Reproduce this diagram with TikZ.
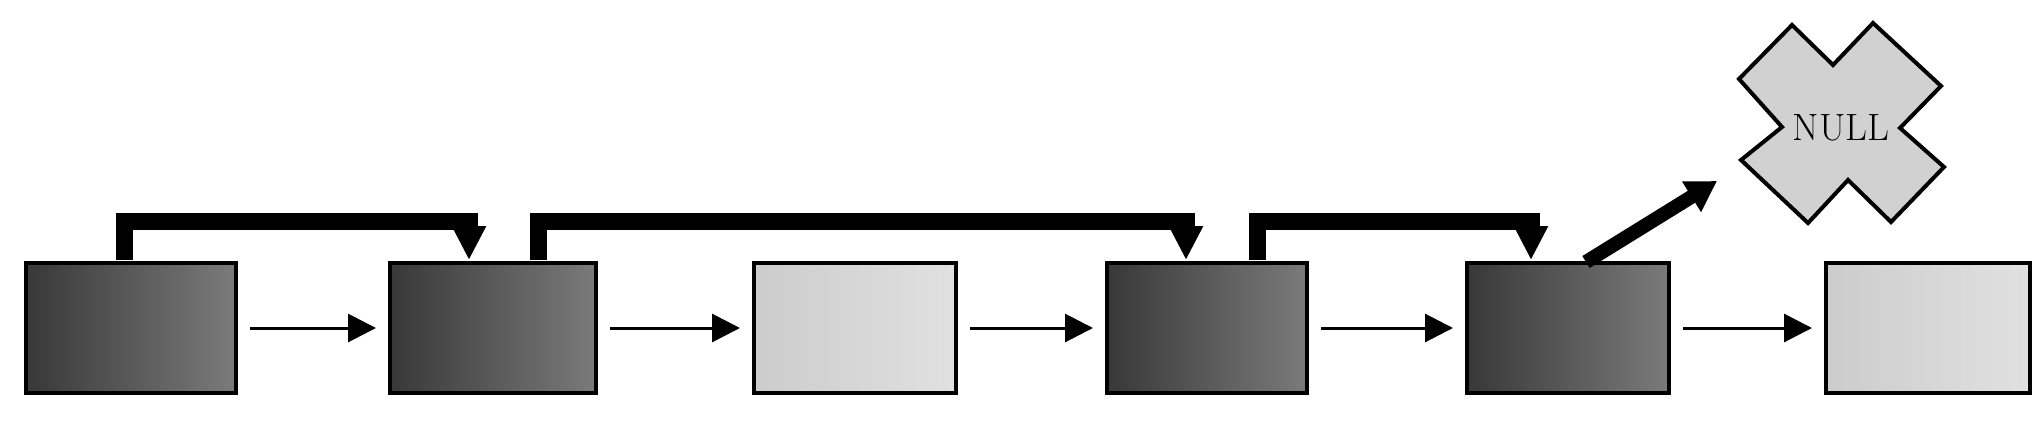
\documentclass[tikz,border=0pt]{standalone}
\usetikzlibrary{arrows.meta}
\begin{document}
\begin{tikzpicture}[x=0.5pt,y=-0.5pt,
  darkbox/.style={draw=black,line width=2pt,left color=black!78,right color=black!52},
  lightbox/.style={draw=black,line width=2pt,left color=black!20,right color=black!12},
  thin/.style={line width=1.5pt,-{Triangle[length=14pt,width=14pt]}},
  thick/.style={line width=8.5pt,-{Triangle[length=17pt,width=16pt]}},
  diag/.style={line width=7pt,-{Triangle[length=15pt,width=17pt]}}]
\useasboundingbox (0,0) rectangle (2043,423);
\node[darkbox,minimum width=105pt,minimum height=65pt,inner sep=0] (b1) at (131,328) {};
\node[darkbox,minimum width=103pt,minimum height=65pt,inner sep=0] (b2) at (493,328) {};
\node[lightbox,minimum width=101pt,minimum height=65pt,inner sep=0] (b3) at (855,328) {};
\node[darkbox,minimum width=100pt,minimum height=65pt,inner sep=0] (b4) at (1207,328) {};
\node[darkbox,minimum width=101pt,minimum height=65pt,inner sep=0] (b5) at (1568,328) {};
\node[lightbox,minimum width=102pt,minimum height=65pt,inner sep=0] (b6) at (1928,328) {};
\foreach \a/\b in {b1/b2,b2/b3,b3/b4,b4/b5,b5/b6}
  \draw[thin] ([xshift=6pt]\a.east) -- ([xshift=-6pt]\b.west);
\coordinate (s1) at (124,260); \coordinate (t1) at (469,260);
\coordinate (s2) at (538,260); \coordinate (t2) at (1186,260);
\coordinate (s3) at (1257,260); \coordinate (t3) at (1531,260);
\foreach \s/\t in {s1/t1,s2/t2,s3/t3}
  \draw[thick] (\s) -- ++(0,-39) -| (\t);
\draw[fill=black!18,line width=2pt]
  (1792,25) -- (1833,65) -- (1873,23) -- (1941,86) -- (1900,128) -- (1944,167)
  -- (1891,222) -- (1848,180) -- (1808,223) -- (1741,160) -- (1782,127) -- (1739,79) -- cycle;
\node[font=\fontsize{19}{19}\selectfont,inner sep=0] (null) at (1841,128) {NULL};
\coordinate (d1) at (1586,262);
\coordinate (d2) at (1717,181);
\draw[diag] (d1) -- (d2);
\end{tikzpicture}
\end{document}
